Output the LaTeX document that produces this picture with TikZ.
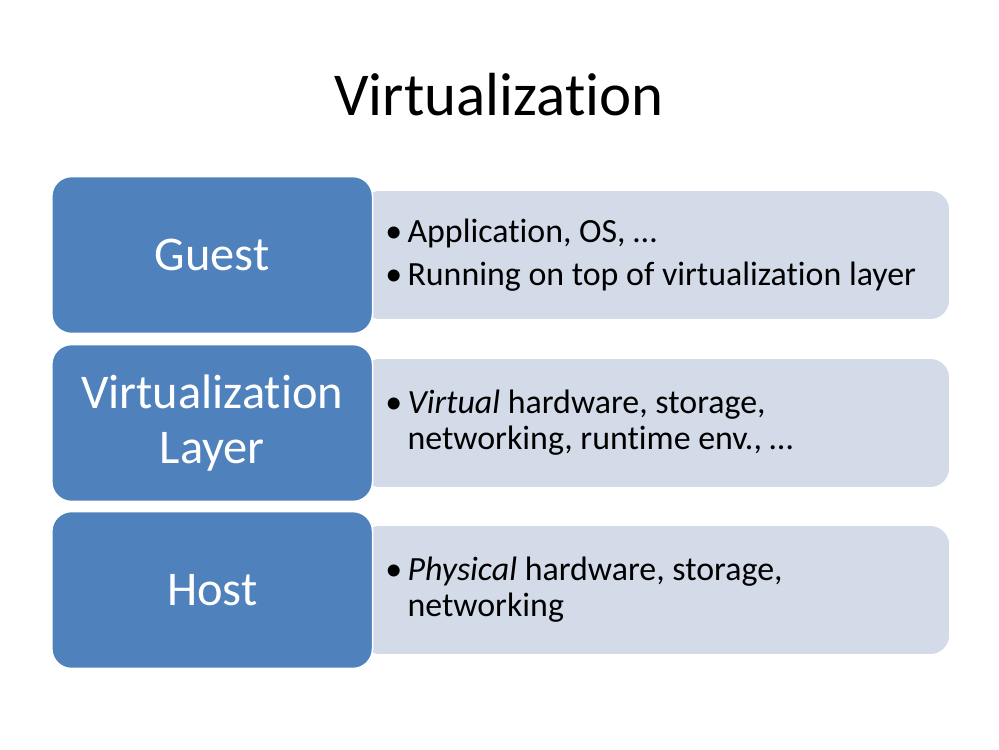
\documentclass[tikz,border=0pt]{standalone}
\usepackage{fontspec}
\setmainfont{Carlito}[Ligatures=NoCommon]
\usetikzlibrary{positioning}
\definecolor{layerblue}{HTML}{4F81BD}
\definecolor{panelgrey}{HTML}{D3DBE9}
\newcommand{\itm}{\makebox[16pt][l]{\textbullet}}
\begin{document}
\begin{tikzpicture}[
  x=0.0254cm, y=-0.0254cm,
  layerbox/.style={rectangle, rounded corners=0.5cm, draw=white, line width=1.2pt, fill=layerblue,
    minimum width=8.15cm, minimum height=3.99cm, text=white, align=center,
    font=\fontsize{35}{40}\selectfont},
  panel/.style={rectangle, rounded corners=0.5cm, draw=white, line width=1.2pt, fill=panelgrey,
    minimum width=14.99cm, minimum height=3.30cm},
  info/.style={anchor=west, align=left, inner sep=0pt, font=\fontsize{24.5}{26}\selectfont},
  node distance=11.25cm
]
\useasboundingbox (0,0) rectangle (999,749);
\node[font=\fontsize{44}{52}\selectfont] (title) at (499,95) {Virtualization};

% grey panels first, blue boxes drawn over them
\node[panel] (guestinfo) at (655,255) {};
\node[panel] (layerinfo) at (655,423) {};
\node[panel] (hostinfo) at (655,590) {};

\node[layerbox, left of=guestinfo] (guest) {Guest};
\node[layerbox, left of=layerinfo] (virt) {Virtualization\\Layer};
\node[layerbox, left of=hostinfo] (host) {Host};

\node[info] (guesttext) at ([xshift=0.66cm]guestinfo.west) {\itm Application, OS, \dots\\[5pt]\itm Running on top of virtualization layer};
\node[info] (layertext) at ([xshift=0.66cm]layerinfo.west) {\itm\textit{Virtual} hardware, storage,\\\hspace*{16pt}networking, runtime env., \dots};
\node[info] (hosttext) at ([xshift=0.66cm]hostinfo.west) {\itm\textit{Physical} hardware, storage,\\\hspace*{16pt}networking};
\end{tikzpicture}
\end{document}
